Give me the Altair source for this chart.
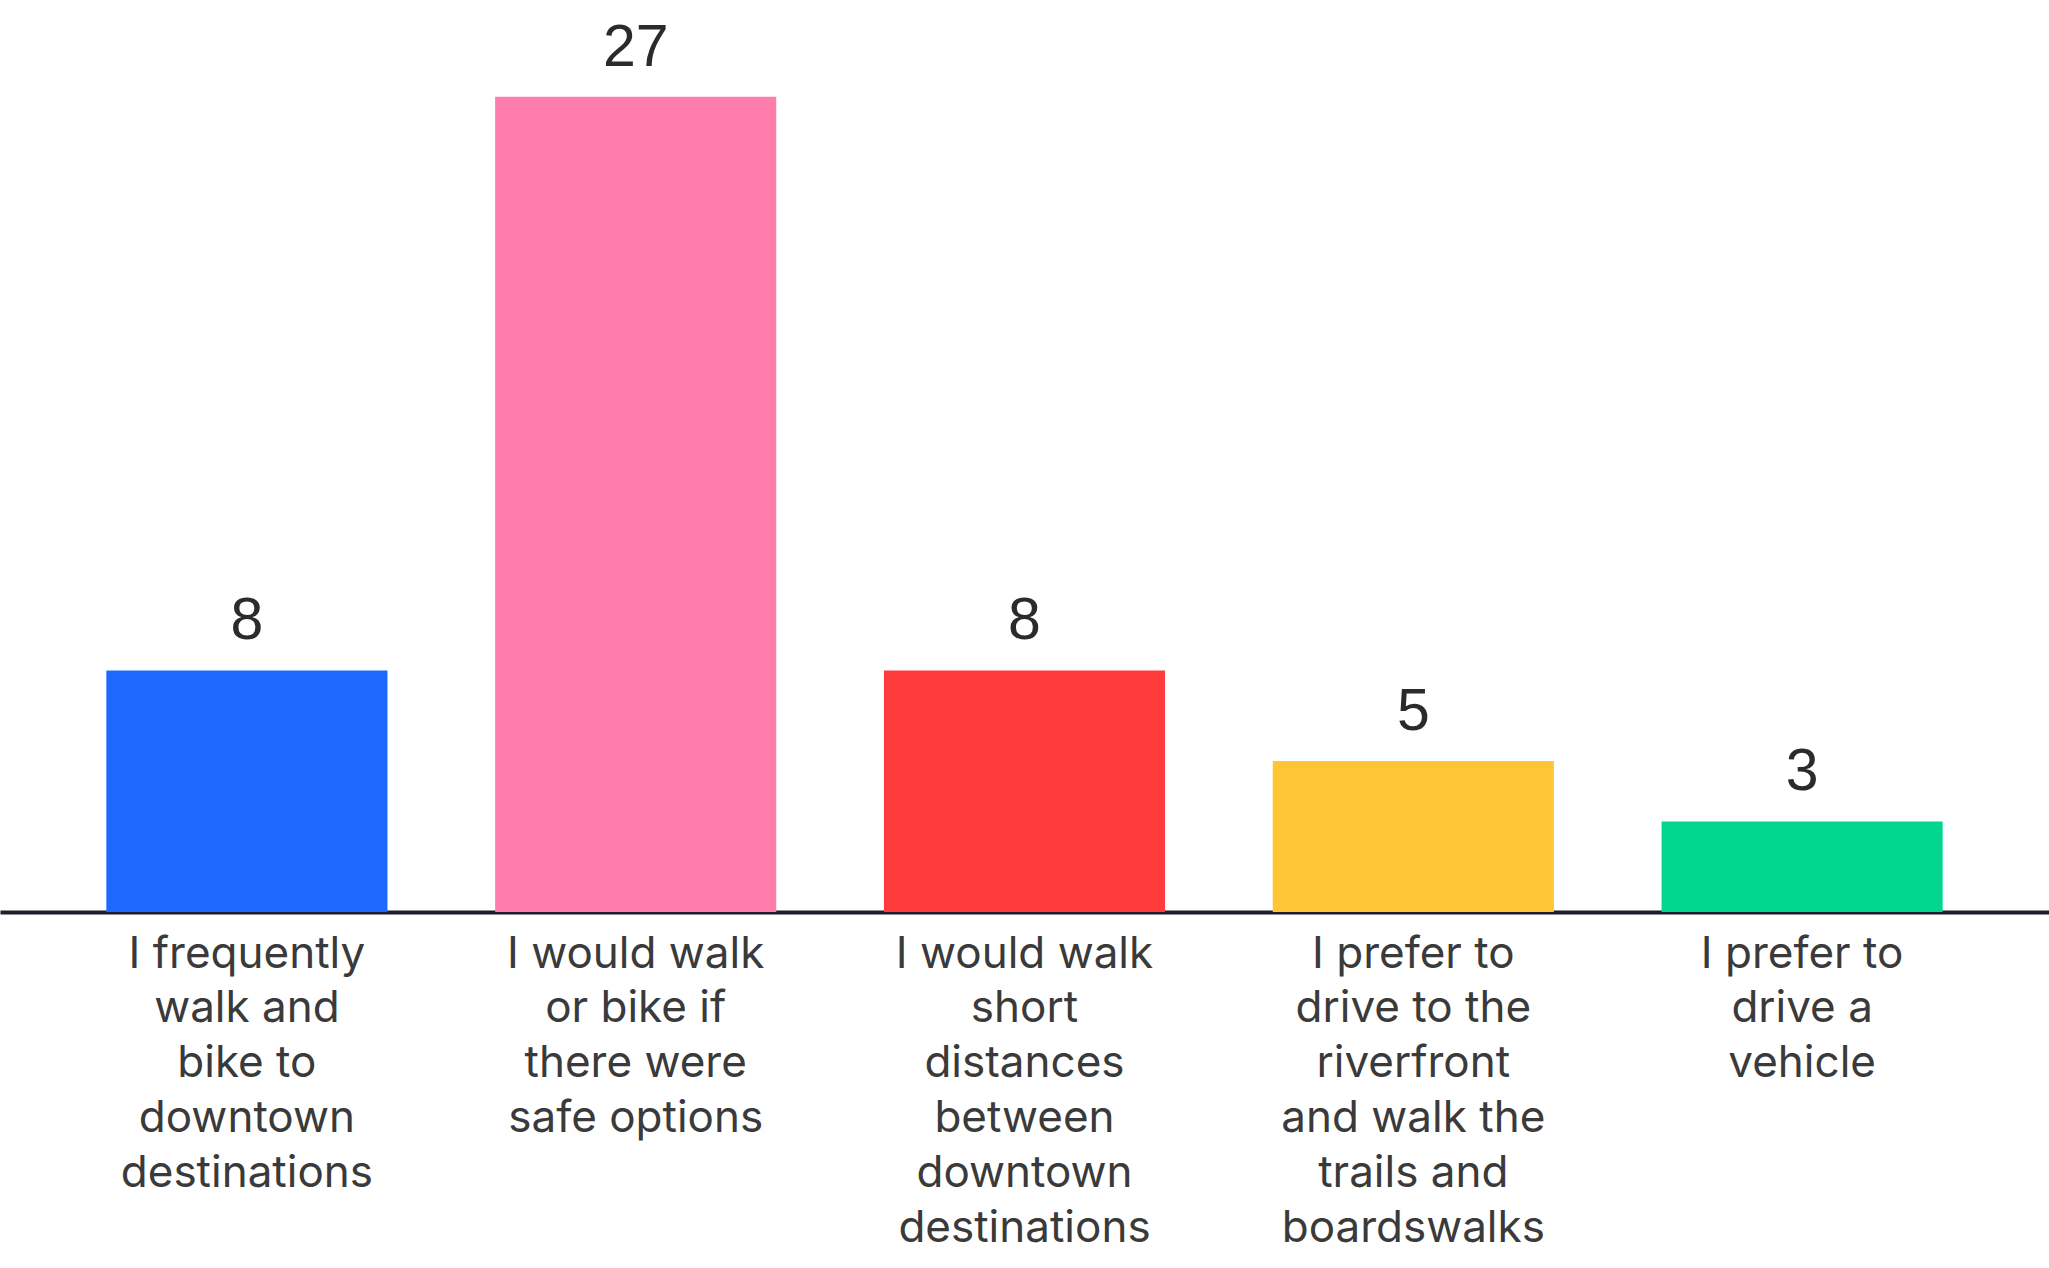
import altair as alt
import pandas as pd

categories = [
    "I frequently|walk and|bike to|downtown|destinations",
    "I would walk|or bike if|there were|safe options",
    "I would walk|short|distances|between|downtown|destinations",
    "I prefer to|drive to the|riverfront|and walk the|trails and|boardswalks",
    "I prefer to|drive a|vehicle",
]
counts = [8, 27, 8, 5, 3]
colors = ["#1E68FF", "#FF7DAA", "#FF3B3B", "#FFC535", "#03D68F"]

df = pd.DataFrame({"cat": categories, "count": counts})

x = alt.X(
    "cat:N",
    sort=categories,
    scale=alt.Scale(paddingInner=0.277, paddingOuter=0.2735),
    axis=alt.Axis(
        title=None,
        labelAngle=0,
        labelExpr="split(datum.label, '|')",
        labelFont="Inter",
        labelFontSize=44,
        labelLineHeight=54.8,
        labelColor="#3a3a3a",
        labelPadding=20,
        labelBaseline="top",
        labelLimit=400,
        ticks=False,
        domainColor="#1c1f2a",
        domainWidth=4,
        grid=False,
    ),
)
y = alt.Y("count:Q", scale=alt.Scale(domain=[0, 30.2], nice=False, zero=True), axis=None)

bars = alt.Chart(df).mark_bar().encode(
    x=x,
    y=y,
    color=alt.Color("cat:N", scale=alt.Scale(domain=categories, range=colors), legend=None),
)

text = alt.Chart(df).mark_text(
    dy=-31, baseline="alphabetic", font="Liberation Sans", fontSize=59, color="#2b2b2b"
).encode(x=alt.X("cat:N", sort=categories), y="count:Q", text="count:Q")

chart = (
    alt.layer(bars, text)
    .properties(
        width=2049,
        height=912,
        padding={"left": 0, "top": 0, "right": 0, "bottom": 356},
        autosize="none",
        background="white",
    )
    .configure_view(stroke=None)
)

chart.save("out.html", embed_options={"renderer": "svg", "actions": False})
